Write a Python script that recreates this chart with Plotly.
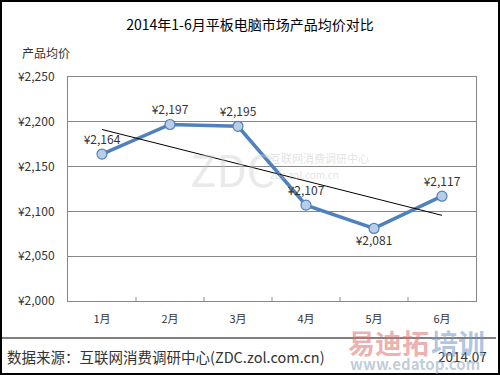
import numpy as np
import plotly.graph_objects as go

months = ["1月", "2月", "3月", "4月", "5月", "6月"]
avg_price = [2164, 2197, 2195, 2107, 2081, 2117]
label_pos = ["top center", "top center", "top center", "top center", "bottom center", "top center"]
y_ticks = [2000, 2050, 2100, 2150, 2200, 2250]

xi = np.arange(1, len(avg_price) + 1)
slope, intercept = np.polyfit(xi, avg_price, 1)
trend = (slope * xi + intercept).tolist()

font = "Noto Sans CJK SC, Noto Sans, sans-serif"
L, R, T, B = 68, 24, 77, 74
W, H = 500, 375
pw, ph = W - L - R, H - T - B


def px(x):
    return (x - L) / pw


def py(y):
    return (H - B - y) / ph


fig = go.Figure()
fig.add_trace(go.Scatter(
    x=months, y=avg_price, mode="lines+markers+text",
    line=dict(color="#4F81BD", width=3.5),
    marker=dict(size=10, color="#B9CDE5", line=dict(color="#4F81BD", width=1.2)),
    text=[f"¥{v:,}" for v in avg_price], textposition=label_pos,
    textfont=dict(family=font, size=12, color="#333333"),
    cliponaxis=False, showlegend=False, hoverinfo="skip"))
fig.add_trace(go.Scatter(
    x=months, y=trend, mode="lines", line=dict(color="black", width=1),
    showlegend=False, hoverinfo="skip"))

fig.update_layout(
    width=W, height=H, margin=dict(l=L, r=R, t=T, b=B),
    paper_bgcolor="white", plot_bgcolor="white",
    font=dict(family=font, color="#333333"),
    title=dict(text="2014年1-6月平板电脑市场产品均价对比", x=0.5, xanchor="center",
               y=1 - 25 / H, yanchor="middle",
               font=dict(family=font, size=14, color="black")),
)
fig.update_xaxes(range=[-0.5, len(months) - 0.5], showgrid=False, showline=True,
                 linecolor="#878787", linewidth=1, mirror=True,
                 ticks="", ticklabelstandoff=8, tickfont=dict(size=11, color="#333333"))
fig.update_yaxes(range=[2000, 2250], tickvals=y_ticks, ticktext=[f"¥{v:,}" for v in y_ticks],
                 showgrid=True, gridcolor="#878787", gridwidth=1,
                 showline=True, linecolor="#878787", linewidth=1, mirror=True,
                 ticks="", ticklabelstandoff=10, tickfont=dict(size=12, color="#333333"),
                 zeroline=False)

# category-boundary tick marks on x axis
for k in range(1, len(months)):
    fig.add_shape(type="line", xref="paper", yref="paper",
                  x0=k / len(months), x1=k / len(months), y0=0, y1=py(H - B - 4),
                  line=dict(color="#878787", width=1))

annotations = [
    dict(text="产品均价", x=px(20), y=py(52), xanchor="left", yanchor="middle",
         font=dict(size=12, color="#333333")),
    dict(text="数据来源：互联网消费调研中心(ZDC.zol.com.cn)", x=px(5), y=py(356),
         xanchor="left", yanchor="middle", font=dict(size=14.5, color="#333333")),
    dict(text="2014.07", x=px(489), y=py(356), xanchor="right", yanchor="middle",
         font=dict(size=13.5, color="#333333")),
    dict(text="ZDC", x=px(232), y=py(168), xanchor="center", yanchor="middle",
         font=dict(size=44, color="rgba(200,200,200,0.4)")),
    dict(text="互联网消费调研中心", x=px(268), y=py(158), xanchor="left", yanchor="middle",
         font=dict(size=11, color="rgba(190,190,190,0.45)")),
    dict(text="zdc.zol.com.cn", x=px(268), y=py(174), xanchor="left", yanchor="middle",
         font=dict(size=10, color="rgba(190,190,190,0.45)")),
    dict(text="<b>易迪拓</b>", x=px(346), y=py(342), xanchor="left", yanchor="middle",
         font=dict(size=27, color="rgba(220,110,110,0.55)")),
    dict(text="<b>培训</b>", x=px(429), y=py(342), xanchor="left", yanchor="middle",
         font=dict(size=27, color="rgba(110,150,200,0.55)")),
    dict(text="<b>www.edatop.com</b>", x=px(348), y=py(363), xanchor="left", yanchor="middle",
         font=dict(size=15, color="rgba(140,160,190,0.55)")),
]
for a in annotations:
    a.update(xref="paper", yref="paper", showarrow=False)
fig.update_layout(annotations=annotations)

# footer separator and outer frame
fig.add_shape(type="line", xref="paper", yref="paper", x0=px(0), x1=px(496), y0=py(338), y1=py(338),
              line=dict(color="black", width=1))
fig.add_shape(type="rect", xref="paper", yref="paper", x0=px(1), x1=px(499), y0=py(374), y1=py(1),
              line=dict(color="black", width=2))

fig.write_html("out.html", config={"displayModeBar": False},
               post_script="document.body.style.margin='0';document.body.style.overflow='hidden';")
